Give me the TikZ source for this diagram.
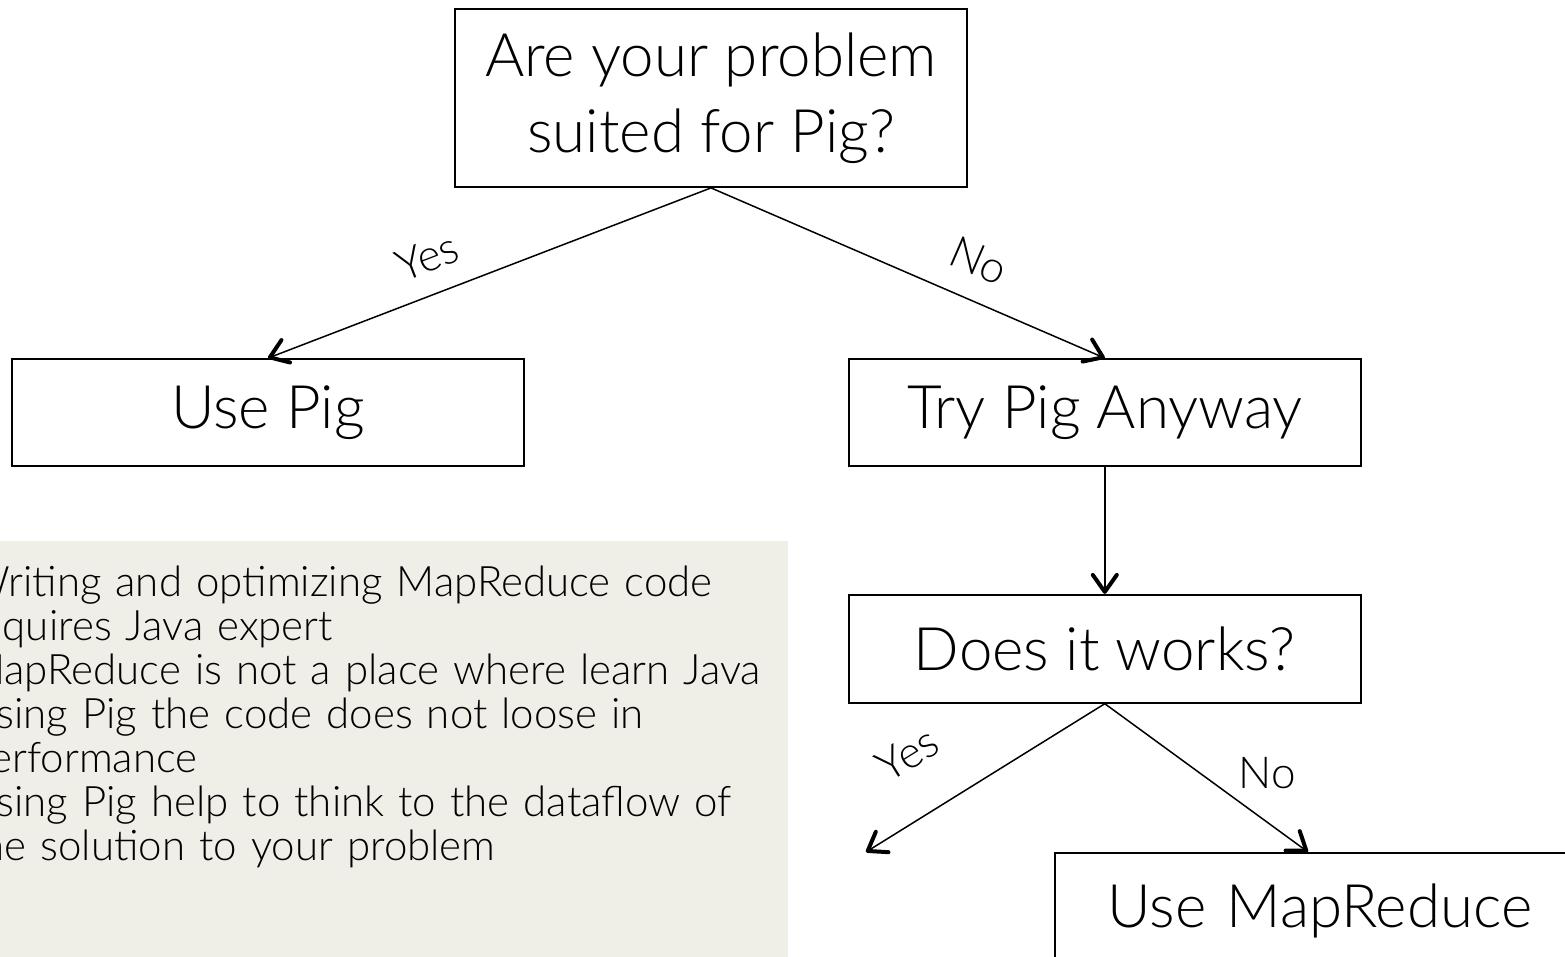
\documentclass[tikz,border=0pt]{standalone}
\usepackage{fontspec}
\setmainfont{Lato}[UprightFont=* Light]
\usetikzlibrary{arrows.meta, positioning}
\definecolor{notebg}{HTML}{EFEEE7}

\begin{document}
\begin{tikzpicture}[
    x=1pt, y=-1pt,
    >={Straight Barb[length=17pt, width=24pt, line width=4pt, round]},
    box/.style={draw, line width=1.8pt, inner sep=0pt, minimum width=512pt, align=center, font=\fontsize{60}{76}\selectfont},
    lab/.style={font=\fontsize{44}{46}\selectfont, inner sep=0pt},
    flow/.style={->, line width=1.5pt},
  ]
  \useasboundingbox (0,0) rectangle (1565,956);
  \clip (0,0) rectangle (1565,956);
  % ---- notes, lower left
  \fill[notebg] (-10,541) rectangle (788,970);
  \node[anchor=north west, inner sep=0pt, text width=900pt, align=left, font=\fontsize{42}{44}\selectfont] (notes) at (-33,566)
    {Writing and optimizing MapReduce code\\ requires Java expert\\ MapReduce is not a place where learn Java\\ Using Pig the code does not loose in\\ performance\\ Using Pig help to think to the dataflow of\\ the solution to your problem};
  % ---- boxes
  \node[box, minimum height=178pt] (suit) at (711,98) {Are your problem\\ suited for Pig?};
  \node[box, minimum height=107pt] (pig) at (268,412.5) {Use Pig};
  \node[box, minimum height=107pt, right=323pt of pig] (tryp) {Try Pig Anyway};
  \node[box, minimum height=108pt, below=127pt of tryp] (works) {Does it works?};
  \node[box, anchor=north west, minimum height=116pt, text width=454pt, inner xsep=53pt, align=left] (mr) at (1054,852) {Use MapReduce};
  \coordinate (dead) at (866,852);
  % ---- arrows
  \draw[flow] (suit.south) -- (pig.north) node[pos=0.61, sloped, above=21pt, lab] {Yes};
  \draw[flow] (suit.south) -- (tryp.north) node[pos=0.64, sloped, above=23pt, lab] {No};
  \draw[flow] (tryp) -- (works);
  \draw[flow] (works.south) -- (dead) node[pos=0.69, sloped, above=45pt, lab] {Yes};
  \draw[flow] (works.south) -- ([xshift=254pt]mr.north west) node[pos=0.8, above=33pt, lab] {No};
\end{tikzpicture}
\end{document}
